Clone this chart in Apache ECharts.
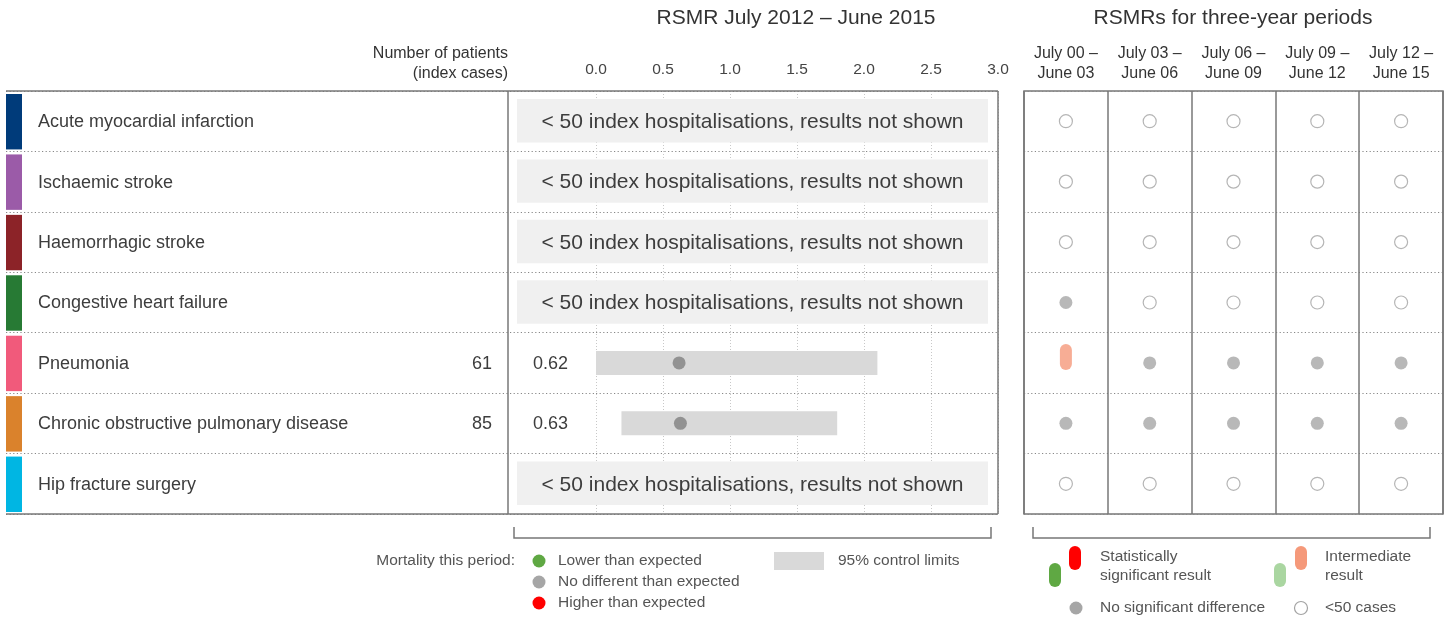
<!DOCTYPE html>
<html>
<head>
<meta charset="utf-8">
<script src="https://cdn.jsdelivr.net/npm/echarts@6/dist/echarts.min.js"></script>
<style>
  html, body { margin: 0; padding: 0; background: #fff; }
  #chart { width: 1451px; height: 618px; }
</style>
</head>
<body>
<div id="chart"></div>
<script>
// data
const conditions = [
  'Acute myocardial infarction',
  'Ischaemic stroke',
  'Haemorrhagic stroke',
  'Congestive heart failure',
  'Pneumonia',
  'Chronic obstructive pulmonary disease',
  'Hip fracture surgery'
];
const patients = [null, null, null, null, 61, 85, null];
const rsmr = [null, null, null, null, 0.62, 0.63, null];
const lowerLimit = [null, null, null, null, 0.0, 0.19, null];
const upperLimit = [null, null, null, null, 2.1, 1.8, null];
const periods = ['July 00 –\nJune 03', 'July 03 –\nJune 06', 'July 06 –\nJune 09', 'July 09 –\nJune 12', 'July 12 –\nJune 15'];
// n = <50 cases, g = no significant difference, ih = intermediate, higher
const periodResults = [
  ['n', 'n', 'n', 'n', 'n'],
  ['n', 'n', 'n', 'n', 'n'],
  ['n', 'n', 'n', 'n', 'n'],
  ['g', 'n', 'n', 'n', 'n'],
  ['ih', 'g', 'g', 'g', 'g'],
  ['g', 'g', 'g', 'g', 'g'],
  ['n', 'n', 'n', 'n', 'n']
];

// styles
const rowColors = ['#003b7a', '#9b5ba8', '#8c2328', '#277a34', '#f15a7b', '#da822c', '#00b6e3'];
const FONT = '"Liberation Sans", Arial, sans-serif';
const TXT = '#3d3d3d';
const LINE = '#777';
const GREY_DOT = '#a6a6a6';
const SMALL = '15.5px ' + FONT;
const capsule = 'path://M0,6A6,6,0,0,1,12,6L12,20A6,6,0,0,1,0,20Z';

const chart = echarts.init(document.getElementById('chart'));

function pointsFor(code) {
  const out = [];
  periodResults.forEach((row, i) => row.forEach((c, j) => { if (c === code) out.push([j, i]); }));
  return out;
}

const rowIdx = conditions.map((_, i) => i);
const shownRows = rowIdx.filter(i => rsmr[i] != null);
const hiddenRows = rowIdx.filter(i => rsmr[i] == null);

function catY(gridIndex) {
  return {
    type: 'category', gridIndex: gridIndex, data: conditions, inverse: true,
    axisLine: { show: false }, axisTick: { show: false }, axisLabel: { show: false },
    splitLine: { show: true, lineStyle: { color: '#888', width: 1.2, type: [1.2, 2.4] } }
  };
}

function txt(text, x, y, opt) {
  return {
    type: 'text', z: 100,
    style: Object.assign({ text: text, x: x, y: y, fill: TXT, font: SMALL, verticalAlign: 'middle' }, opt || {})
  };
}
function line(points) {
  return { type: 'polyline', z: 100, shape: { points: points }, style: { stroke: LINE, lineWidth: 1.5, fill: null } };
}

const option = {
  animation: false,
  grid: [
    { left: 6, top: 91, width: 590, height: 423 },
    { left: 596, top: 91, width: 402, height: 423 },
    { left: 1024, top: 91, width: 419, height: 423, show: true, borderColor: LINE, borderWidth: 1.5 }
  ],
  xAxis: [
    { type: 'value', gridIndex: 0, min: 0, max: 1, show: false },
    {
      type: 'value', gridIndex: 1, min: 0, max: 3, interval: 0.5, position: 'top',
      axisLine: { show: false }, axisTick: { show: false },
      axisLabel: { fontSize: 15.5, color: '#444', fontFamily: FONT, margin: 13, formatter: v => v.toFixed(1) },
      splitLine: { show: true, lineStyle: { color: '#c8c8c8', width: 1, type: [1, 2] } }
    },
    {
      type: 'category', gridIndex: 2, data: periods, position: 'top',
      axisLine: { show: false }, axisTick: { show: false },
      axisLabel: { fontSize: 16, lineHeight: 20, color: '#333', fontFamily: FONT, margin: 7, interval: 0 },
      splitLine: { show: true, interval: 0, lineStyle: { color: LINE, width: 1.5 } }
    }
  ],
  yAxis: [catY(0), catY(1), catY(2)],
  series: [
    {
      type: 'custom', name: 'rows', xAxisIndex: 0, yAxisIndex: 0, clip: false,
      encode: { x: 0, y: 1 },
      data: rowIdx.map(i => [0, i]),
      renderItem: (params, api) => {
        const i = api.value(1);
        const c = api.coord([0, i]);
        const band = api.size([0, 1])[1];
        const cs = params.coordSys;
        const kids = [
          { type: 'rect', shape: { x: cs.x, y: c[1] - band / 2 + 3, width: 16, height: band - 5 }, style: { fill: rowColors[i] } },
          { type: 'text', style: { text: conditions[i], x: cs.x + 32, y: c[1] + 1, verticalAlign: 'middle', fill: TXT, font: '18px ' + FONT } }
        ];
        if (patients[i] != null) {
          kids.push({ type: 'text', style: { text: String(patients[i]), x: cs.x + 486, y: c[1] + 1, align: 'right', verticalAlign: 'middle', fill: TXT, font: '18px ' + FONT } });
        }
        if (rsmr[i] != null) {
          kids.push({ type: 'text', style: { text: rsmr[i].toFixed(2), x: cs.x + cs.width - 28, y: c[1] + 1, align: 'right', verticalAlign: 'middle', fill: TXT, font: '18px ' + FONT } });
        }
        return { type: 'group', children: kids };
      }
    },
    {
      type: 'custom', name: 'suppressed', xAxisIndex: 1, yAxisIndex: 1, clip: false,
      encode: { x: 0, y: 1 },
      data: hiddenRows.map(i => [0, i]),
      renderItem: (params, api) => {
        const c = api.coord([0, api.value(1)]);
        const band = api.size([0, 1])[1];
        const cs = params.coordSys;
        const x0 = cs.x - 79, x1 = cs.x + cs.width - 10;
        return {
          type: 'group', children: [
            { type: 'rect', shape: { x: x0, y: c[1] - band / 2 + 8, width: x1 - x0, height: band - 17 }, style: { fill: '#f0f0f0' } },
            { type: 'text', style: { text: '< 50 index hospitalisations, results not shown', x: (x0 + x1) / 2, y: c[1] + 1, align: 'center', verticalAlign: 'middle', fill: TXT, font: '21px ' + FONT } }
          ]
        };
      }
    },
    {
      type: 'custom', name: '95% control limits', xAxisIndex: 1, yAxisIndex: 1,
      encode: { x: [0, 1], y: 2 },
      data: shownRows.map(i => [lowerLimit[i], upperLimit[i], i]),
      renderItem: (params, api) => {
        const a = api.coord([api.value(0), api.value(2)]);
        const b = api.coord([api.value(1), api.value(2)]);
        return { type: 'rect', shape: { x: a[0], y: a[1] - 12, width: b[0] - a[0], height: 24 }, style: { fill: '#d9d9d9' } };
      }
    },
    {
      type: 'scatter', name: 'RSMR', xAxisIndex: 1, yAxisIndex: 1, z: 5,
      symbolSize: 13, itemStyle: { color: '#808080' },
      data: shownRows.map(i => [rsmr[i], i])
    },
    {
      type: 'scatter', name: '<50 cases', xAxisIndex: 2, yAxisIndex: 2,
      symbol: 'circle', symbolSize: 13,
      itemStyle: { color: '#fff', borderColor: '#a3a3a3', borderWidth: 1.2 },
      data: pointsFor('n')
    },
    {
      type: 'scatter', name: 'No significant difference', xAxisIndex: 2, yAxisIndex: 2,
      symbolSize: 13, itemStyle: { color: GREY_DOT },
      data: pointsFor('g')
    },
    {
      type: 'scatter', name: 'Intermediate result', xAxisIndex: 2, yAxisIndex: 2,
      symbol: capsule, symbolSize: [12, 26], symbolOffset: [0, -6],
      itemStyle: { color: '#f5997a' },
      data: pointsFor('ih')
    }
  ],
  graphic: [
    // titles and header
    txt('RSMR July 2012 – June 2015', 796, 18, { align: 'center', font: '21px ' + FONT, fill: '#333' }),
    txt('RSMRs for three-year periods', 1233, 18, { align: 'center', font: '21px ' + FONT, fill: '#333' }),
    txt('Number of patients', 508, 54, { align: 'right', fill: '#333', font: '16px ' + FONT }),
    txt('(index cases)', 508, 74, { align: 'right', fill: '#333', font: '16px ' + FONT }),
    // frame
    line([[6, 91], [998, 91]]),
    line([[6, 514], [998, 514]]),
    line([[508, 91], [508, 514]]),
    line([[998, 91], [998, 514]]),
    line([[514, 527], [514, 538], [991, 538], [991, 527]]),
    line([[1033, 527], [1033, 538], [1430, 538], [1430, 527]]),
    // left legend
    txt('Mortality this period:', 515, 561, { align: 'right', fill: '#555' }),
    { type: 'circle', shape: { cx: 539, cy: 561, r: 6.5 }, style: { fill: '#5fa843' } },
    { type: 'circle', shape: { cx: 539, cy: 582, r: 6.5 }, style: { fill: GREY_DOT } },
    { type: 'circle', shape: { cx: 539, cy: 603, r: 6.5 }, style: { fill: '#ff0000' } },
    txt('Lower than expected', 558, 561, { fill: '#555' }),
    txt('No different than expected', 558, 582, { fill: '#555' }),
    txt('Higher than expected', 558, 603, { fill: '#555' }),
    { type: 'rect', shape: { x: 774, y: 552, width: 50, height: 18 }, style: { fill: '#d9d9d9' } },
    txt('95% control limits', 838, 561, { fill: '#555' }),
    // right legend
    { type: 'rect', shape: { x: 1049, y: 563, width: 12, height: 24, r: 6 }, style: { fill: '#5fa843' } },
    { type: 'rect', shape: { x: 1069, y: 546, width: 12, height: 24, r: 6 }, style: { fill: '#ff0000' } },
    txt('Statistically', 1100, 557, { fill: '#555' }),
    txt('significant result', 1100, 576, { fill: '#555' }),
    { type: 'rect', shape: { x: 1274, y: 563, width: 12, height: 24, r: 6 }, style: { fill: '#aad6a1' } },
    { type: 'rect', shape: { x: 1295, y: 546, width: 12, height: 24, r: 6 }, style: { fill: '#f5997a' } },
    txt('Intermediate', 1325, 557, { fill: '#555' }),
    txt('result', 1325, 576, { fill: '#555' }),
    { type: 'circle', shape: { cx: 1076, cy: 608, r: 6.5 }, style: { fill: GREY_DOT } },
    txt('No significant difference', 1100, 608, { fill: '#555' }),
    { type: 'circle', shape: { cx: 1301, cy: 608, r: 6.5 }, style: { fill: '#fff', stroke: '#a3a3a3', lineWidth: 1.2 } },
    txt('<50 cases', 1325, 608, { fill: '#555' })
  ]
};

chart.setOption(option);
</script>
</body>
</html>
